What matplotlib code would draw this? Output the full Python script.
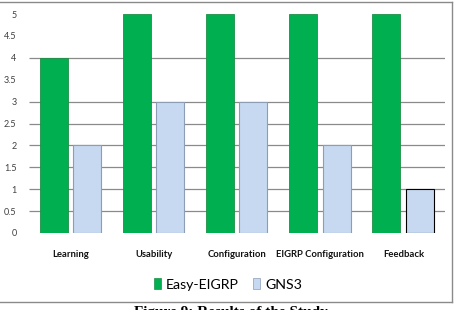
import matplotlib
matplotlib.use("Agg")
import matplotlib.pyplot as plt
from matplotlib.lines import Line2D
import numpy as np

categories = ["Learning", "Usability", "Configuration", "EIGRP Configuration", "Feedback"]
easy_eigrp = [4, 5, 5, 5, 5]
gns3 = [2, 3, 3, 2, 1]
y_ticks = [0, 0.5, 1, 1.5, 2, 2.5, 3, 3.5, 4, 4.5, 5]
grid_vals = [0.5, 1, 1.5, 2, 2.5, 3, 4]

narrow = ["Lato", "DejaVu Sans"]

fig = plt.figure(figsize=(4.54, 3.10), dpi=100)
ax = fig.add_axes([0.0639, 0.2484, 0.9163, 0.7064])

x = np.arange(len(categories))
w = 0.3365
ax.hlines(grid_vals, -0.5, 4.5, colors="#8a8a8a", linewidth=0.9, zorder=1)
ax.bar(x - 0.205, easy_eigrp, w, color="#00b050", edgecolor="#1d8f45",
       linewidth=0.6, zorder=2, label="Easy-EIGRP")
blue_edges = ["#8d9db5", "#8d9db5", "#8d9db5", "#8d9db5", "#000000"]
ax.bar(x + 0.197, gns3, w, color="#c6d9f1", edgecolor=blue_edges,
       linewidth=0.8, zorder=2, label="GNS3")

ax.set_xlim(-0.5, 4.5)
ax.set_ylim(0, 5)
ax.set_yticks(y_ticks)
ax.set_yticklabels([f"{v:g}" for v in y_ticks], fontsize=6.5, color="#404040",
                   family=narrow)
ax.set_xticks(x)
ax.set_xticklabels(categories, fontsize=6.8, fontweight="bold", color="#111111",
                   family=narrow)
ax.tick_params(axis="y", length=0, pad=9)
ax.tick_params(axis="x", length=0, pad=12)
for s in ax.spines.values():
    s.set_visible(False)

leg = ax.legend(loc="center", bbox_to_anchor=(0.478, -0.235), ncol=2,
                frameon=False, prop={"family": narrow, "size": 10.2},
                handlelength=0.5, handleheight=0.75, handletextpad=0.35,
                columnspacing=1.0, borderpad=0)
for h in leg.legend_handles:
    h.set_linewidth(0.5)

# outer frame
fc = "#8a8a8a"
fig.add_artist(Line2D([0, 452 / 454], [308 / 310, 308 / 310], color=fc, lw=1, transform=fig.transFigure))
fig.add_artist(Line2D([452 / 454, 452 / 454], [8 / 310, 308 / 310], color=fc, lw=1, transform=fig.transFigure))
fig.add_artist(Line2D([0, 452 / 454], [8 / 310, 8 / 310], color=fc, lw=1, transform=fig.transFigure))

fig.text(0.508, 0.012, "Figure 9: Results of the Study", ha="center", va="top",
         fontsize=11, fontweight="bold", family=["Liberation Serif", "DejaVu Serif"])

fig.savefig("out.png", dpi=100)
